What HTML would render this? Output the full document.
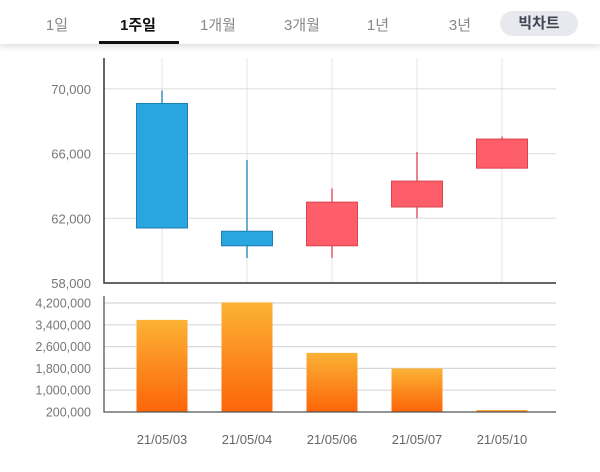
<!DOCTYPE html>
<html><head><meta charset="utf-8"><style>
body{margin:0;width:600px;height:472px;background:#fff;font-family:"Liberation Sans","Noto Sans CJK KR",sans-serif;overflow:hidden;position:relative}
.hdr{position:absolute;left:0;top:0;width:600px;height:44px;background:#fff;box-shadow:0 3px 6px rgba(0,0,0,0.12)}
.tab{position:absolute;top:14px;font-size:15px;color:#888;transform:translateX(-50%)}
.tab.on{color:#111;font-weight:bold}
.ul{position:absolute;left:99px;top:41px;width:80px;height:3px;background:#111}
.pill{position:absolute;left:500px;top:11px;width:78px;height:25px;border-radius:13px;background:#e8e9ee;color:#445;font-weight:bold;font-size:15px;text-align:center;line-height:25px}
svg{position:absolute;left:0;top:0}
</style></head><body>
<div class="hdr">
<div class="tab" style="left:57px">1일</div>
<div class="tab on" style="left:138px">1주일</div>
<div class="ul"></div>
<div class="tab" style="left:218px">1개월</div>
<div class="tab" style="left:302px">3개월</div>
<div class="tab" style="left:378px">1년</div>
<div class="tab" style="left:460px">3년</div>
<div class="pill">빅차트</div>
</div>
<svg id="c" width="600" height="472">
<defs><linearGradient id="og" x1="0" y1="0" x2="0" y2="1"><stop offset="0" stop-color="#fbb236"/><stop offset="1" stop-color="#fd6508"/></linearGradient></defs>
</svg>
<script>
const dates=["21/05/03","21/05/04","21/05/06","21/05/07","21/05/10"];
const opens=[69100,61200,60300,62700,65100];
const closes=[61400,60300,63000,64300,66900];
const highs=[69900,65600,63850,66100,67050];
const lows=[61400,59550,59550,62000,65100];
const volumes=[3580000,4220000,2370000,1800000,270000];
const priceTicks=[58000,62000,66000,70000];
const volTicks=[200000,1000000,1800000,2600000,3400000,4200000];

const svg=document.getElementById('c');
const NS='http://www.w3.org/2000/svg';
function mk(t,a,p){const e=document.createElementNS(NS,t);for(const k in a)e.setAttribute(k,a[k]);(p||svg).appendChild(e);return e;}
const L=104,R=556;
const xc=i=>162+i*85;
const py=v=>283-(v-58000)/4000*64.7;
const vy=v=>412-(v-200000)/800000*21.8;
const fmt=v=>v.toLocaleString('en-US');

dates.forEach((d,i)=>{
 const g=mk('line',{x1:xc(i),x2:xc(i),y1:58,y2:283,stroke:'#e4e4e4'});
 
 
});
priceTicks.forEach(v=>{
 if(v>58000){const g=mk('line',{x1:L,x2:R,y1:py(v),y2:py(v),stroke:'#dcdcdc'});
 
 }
 const t=mk('text',{x:91,y:py(v)+5,'text-anchor':'end','font-size':13,fill:'#777'});t.textContent=fmt(v);
 
 
});
const pa=mk('path',{d:`M${L} 58V283H${R}`,stroke:'#333','stroke-width':1.5,fill:'none'});


dates.forEach((d,i)=>{
 const up=closes[i]>=opens[i];const col=up?'#fe5e6a':'#29a6e0';const st=up?'#d9444f':'#1f7fb2';
 const w=mk('line',{x1:xc(i),x2:xc(i),y1:py(highs[i]),y2:py(lows[i]),stroke:st,'stroke-width':1.3});
 
 
 const top=Math.max(opens[i],closes[i]),bot=Math.min(opens[i],closes[i]);
 const b=mk('rect',{x:xc(i)-25.5,width:51,y:py(top),height:Math.max(1,py(bot)-py(top)),fill:col,stroke:st});
 
 
});
volTicks.forEach(v=>{
 if(v>200000){const g=mk('line',{x1:L,x2:R,y1:vy(v),y2:vy(v),stroke:'#d8d8d8','stroke-width':1.2});
 
 }
 const t=mk('text',{x:91,y:vy(v)+4.5,'text-anchor':'end','font-size':12.5,fill:'#777'});t.textContent=fmt(v);
 
 
});
volumes.forEach((v,i)=>{
 const b=mk('rect',{x:xc(i)-25.5,width:51,y:vy(v),height:412-vy(v),fill:'url(#og)'});
 
 
});
const va=mk('path',{d:`M${L} 296V412H${R}`,stroke:'#555','stroke-width':1.3,fill:'none'});


dates.forEach((d,i)=>{
 const t=mk('text',{x:xc(i),y:444,'text-anchor':'middle','font-size':13,fill:'#666'});t.textContent=d;
 
 
});
</script>
</body></html>
